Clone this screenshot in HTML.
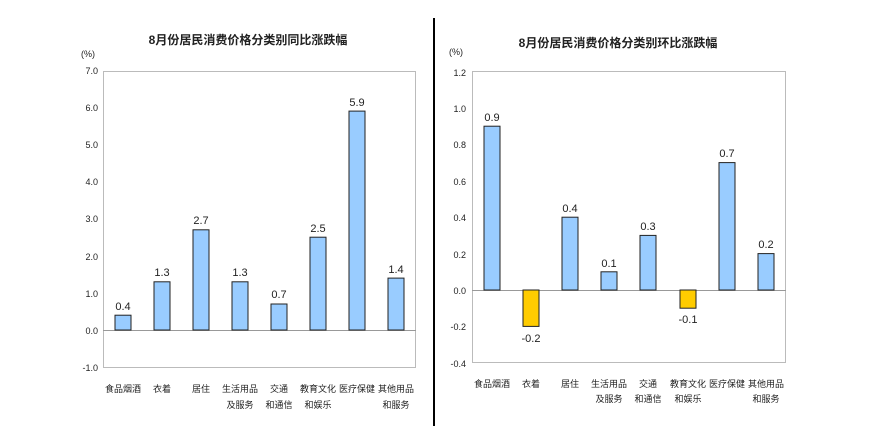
<!DOCTYPE html>
<html><head><meta charset="utf-8"><style>
html,body{margin:0;padding:0;background:#fff;width:870px;height:429px;overflow:hidden}
svg text{font-family:"Liberation Sans","Noto Sans CJK SC",sans-serif;fill:#222}
</style></head><body>
<svg width="870" height="429" viewBox="0 0 870 429" xmlns="http://www.w3.org/2000/svg">
<line x1="434" y1="18" x2="434" y2="426" stroke="#000" stroke-width="2"/>
<!-- LEFT -->
<text x="248" y="44" font-size="12" font-weight="bold" text-anchor="middle">8月份居民消费价格分类别同比涨跌幅</text>
<text x="88" y="57" font-size="9" text-anchor="middle">(%)</text>
<rect x="103.5" y="71.5" width="312" height="296" fill="none" stroke="#bbb"/>
<g font-size="9" text-anchor="end">
<text x="98" y="74">7.0</text><text x="98" y="111">6.0</text><text x="98" y="148">5.0</text><text x="98" y="185">4.0</text><text x="98" y="222">3.0</text><text x="98" y="260">2.0</text><text x="98" y="297">1.0</text><text x="98" y="334">0.0</text><text x="98" y="371">-1.0</text>
</g>
<line x1="103" y1="330.5" x2="416" y2="330.5" stroke="#999"/>
<g fill="#99ccff" stroke="#222" stroke-width="1">
<rect x="115" y="315.2" width="16" height="14.8"/>
<rect x="154" y="281.8" width="16" height="48.2"/>
<rect x="193" y="229.8" width="16" height="100.2"/>
<rect x="232" y="281.8" width="16" height="48.2"/>
<rect x="271" y="304" width="16" height="26"/>
<rect x="310" y="237.2" width="16" height="92.8"/>
<rect x="349" y="111.1" width="16" height="218.9"/>
<rect x="388" y="278.1" width="16" height="51.9"/>
</g>
<g font-size="11" text-anchor="middle">
<text x="123" y="310">0.4</text><text x="162" y="276">1.3</text><text x="201" y="224">2.7</text><text x="240" y="276">1.3</text><text x="279" y="298">0.7</text><text x="318" y="232">2.5</text><text x="357" y="106">5.9</text><text x="396" y="273">1.4</text>
</g>
<g font-size="9" text-anchor="middle">
<text x="123" y="392">食品烟酒</text><text x="162" y="392">衣着</text><text x="201" y="392">居住</text><text x="240" y="392">生活用品</text><text x="240" y="408">及服务</text><text x="279" y="392">交通</text><text x="279" y="408">和通信</text><text x="318" y="392">教育文化</text><text x="318" y="408">和娱乐</text><text x="357" y="392">医疗保健</text><text x="396" y="392">其他用品</text><text x="396" y="408">和服务</text>
</g>
<!-- RIGHT -->
<text x="618" y="47" font-size="12" font-weight="bold" text-anchor="middle">8月份居民消费价格分类别环比涨跌幅</text>
<text x="456" y="55" font-size="9" text-anchor="middle">(%)</text>
<rect x="472.5" y="71.5" width="313" height="291" fill="none" stroke="#bbb"/>
<g font-size="9" text-anchor="end">
<text x="466" y="76">1.2</text><text x="466" y="112">1.0</text><text x="466" y="148">0.8</text><text x="466" y="185">0.6</text><text x="466" y="221">0.4</text><text x="466" y="258">0.2</text><text x="466" y="294">0.0</text><text x="466" y="330">-0.2</text><text x="466" y="367">-0.4</text>
</g>
<line x1="472" y1="290.5" x2="786" y2="290.5" stroke="#999"/>
<g stroke="#222" stroke-width="1">
<rect x="484" y="126.2" width="16" height="163.8" fill="#99ccff"/>
<rect x="523" y="290" width="16" height="36.4" fill="#ffcc00"/>
<rect x="562" y="217.2" width="16" height="72.8" fill="#99ccff"/>
<rect x="601" y="271.8" width="16" height="18.2" fill="#99ccff"/>
<rect x="640" y="235.4" width="16" height="54.6" fill="#99ccff"/>
<rect x="680" y="290" width="16" height="18.2" fill="#ffcc00"/>
<rect x="719" y="162.6" width="16" height="127.4" fill="#99ccff"/>
<rect x="758" y="253.6" width="16" height="36.4" fill="#99ccff"/>
</g>
<g font-size="11" text-anchor="middle">
<text x="492" y="121">0.9</text><text x="531" y="342">-0.2</text><text x="570" y="212">0.4</text><text x="609" y="267">0.1</text><text x="648" y="230">0.3</text><text x="688" y="323">-0.1</text><text x="727" y="157">0.7</text><text x="766" y="248">0.2</text>
</g>
<g font-size="9" text-anchor="middle">
<text x="492" y="387">食品烟酒</text><text x="531" y="387">衣着</text><text x="570" y="387">居住</text><text x="609" y="387">生活用品</text><text x="609" y="402">及服务</text><text x="648" y="387">交通</text><text x="648" y="402">和通信</text><text x="688" y="387">教育文化</text><text x="688" y="402">和娱乐</text><text x="727" y="387">医疗保健</text><text x="766" y="387">其他用品</text><text x="766" y="402">和服务</text>
</g>
</svg>
</body></html>
